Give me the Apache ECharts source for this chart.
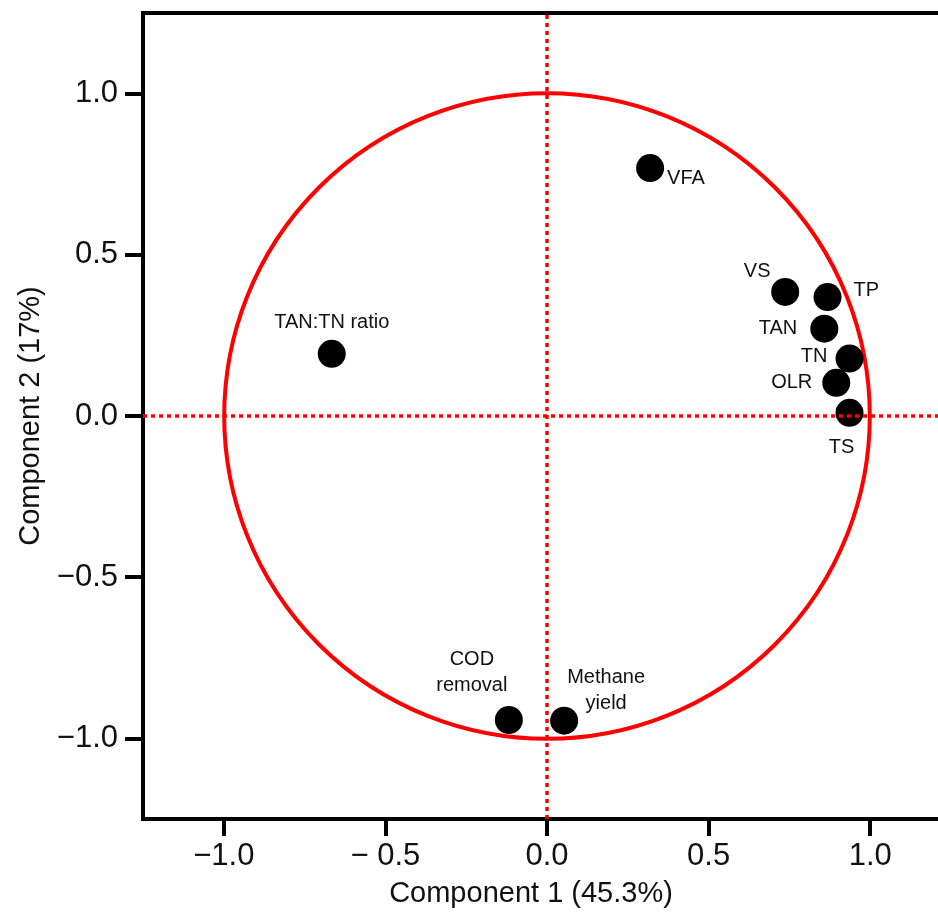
<!DOCTYPE html>
<html>
<head>
<meta charset="utf-8">
<script src="https://cdn.jsdelivr.net/npm/echarts@6/dist/echarts.min.js"></script>
<style>
  html, body { margin: 0; padding: 0; background: #fff; overflow: hidden; }
  /* the reference is cropped on the right, so the canvas is wider than the window */
  #chart { width: 960px; height: 924px; }
</style>
</head>
<body>
<div id="chart"></div>
<script>
// loadings (component 1, component 2)
var names = ["VFA", "VS", "TP", "TAN", "TN", "OLR", "TS", "TAN:TN ratio", "COD\nremoval", "Methane\nyield"];
var comp1 = [0.319, 0.737, 0.868, 0.858, 0.936, 0.895, 0.936, -0.666, -0.118, 0.053];
var comp2 = [0.769, 0.385, 0.369, 0.271, 0.178, 0.103, 0.010, 0.193, -0.943, -0.945];
var axisTicks = [-1.0, -0.5, 0.0, 0.5, 1.0];

// label placement per point: [offsetX, offsetY, align]
var labelPos = [
  [17, 10, "left"],
  [-28, -20, "center"],
  [26, -7, "left"],
  [-27, 0, "right"],
  [-22, -2, "right"],
  [-24, 0, "right"],
  [-8, 35, "center"],
  [0, -31, "center"],
  [-37, -48, "center"],
  [42, -30, "center"]
];

var chart = echarts.init(document.getElementById("chart"));
var fontFam = "'Liberation Sans', Arial, sans-serif";

var points = names.map(function (n, i) {
  return {
    name: n,
    value: [comp1[i], comp2[i]],
    label: {
      show: true,
      position: "inside",
      offset: [labelPos[i][0], labelPos[i][1]],
      align: labelPos[i][2],
      verticalAlign: "middle",
      formatter: "{b}",
      color: "#111",
      fontSize: 20,
      lineHeight: 26,
      fontFamily: fontFam
    }
  };
});

function tickFmt(v) {
  var s = v.toFixed(1);
  return s.charAt(0) === "-" ? "\u2212" + s.slice(1) : s;
}

var option = {
  animation: false,
  backgroundColor: "#fff",
  grid: {
    left: 143,
    top: 13,
    right: 9,
    bottom: 105,
    show: true,
    borderColor: "#000",
    borderWidth: 4
  },
  xAxis: {
    type: "value",
    min: -1.25,
    max: 1.25,
    name: "Component 1 (45.3%)",
    nameLocation: "middle",
    nameGap: 60,
    nameTextStyle: { fontSize: 29, color: "#111", fontFamily: fontFam, padding: [0, 32, 0, 0] },
    axisLine: { show: true, onZero: false, lineStyle: { color: "#000", width: 4 } },
    axisTick: { show: true, length: 17, lineStyle: { color: "#000", width: 4 }, customValues: axisTicks },
    axisLabel: {
      fontSize: 31, color: "#111", fontFamily: fontFam, margin: 22,
      customValues: axisTicks,
      formatter: function (v) {
        var s = tickFmt(v);
        return s === "\u22120.5" ? "\u2212 0.5" : s;
      }
    },
    splitLine: { show: false }
  },
  yAxis: {
    type: "value",
    min: -1.25,
    max: 1.25,
    name: "Component 2 (17%)",
    nameLocation: "middle",
    nameGap: 98,
    nameTextStyle: { fontSize: 29, color: "#111", fontFamily: fontFam },
    axisLine: { show: true, onZero: false, lineStyle: { color: "#000", width: 4 } },
    axisTick: { show: true, length: 18, lineStyle: { color: "#000", width: 4 }, customValues: axisTicks },
    axisLabel: {
      fontSize: 31, color: "#111", fontFamily: fontFam, margin: 25,
      customValues: axisTicks,
      formatter: tickFmt
    },
    splitLine: { show: false }
  },
  series: [
    {
      // unit correlation circle
      type: "custom",
      silent: true,
      z: 1,
      data: [[0, 0]],
      renderItem: function (params, api) {
        var c = api.coord([0, 0]);
        var r = api.size([1, 1]);
        return {
          type: "circle",
          shape: { cx: c[0], cy: c[1], r: (r[0] + r[1]) / 2 },
          style: { fill: "none", stroke: "#ff0000", lineWidth: 4 }
        };
      }
    },
    {
      type: "scatter",
      z: 3,
      symbol: "circle",
      symbolSize: 28,
      itemStyle: { color: "#000", opacity: 1 },
      data: points,
      markLine: {
        silent: true,
        symbol: "none",
        label: { show: false },
        lineStyle: { color: "#ff0000", width: 3.5, type: [4, 4], opacity: 1 },
        data: [{ xAxis: 0 }, { yAxis: 0 }]
      }
    }
  ]
};

chart.setOption(option);
</script>
</body>
</html>
